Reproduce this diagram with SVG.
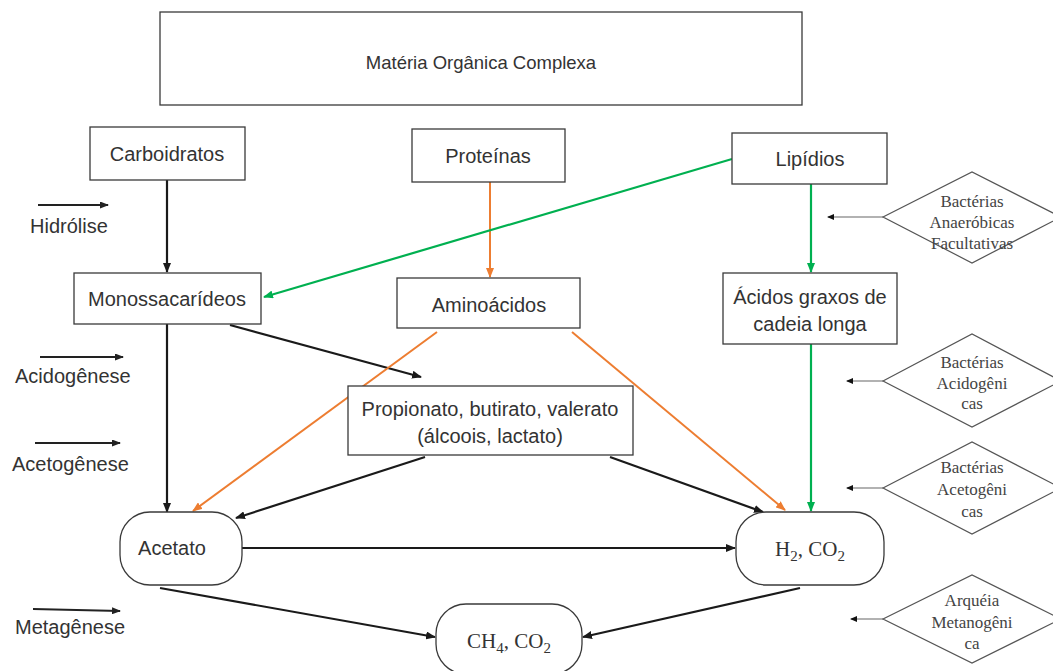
<svg xmlns="http://www.w3.org/2000/svg" width="1053" height="671" viewBox="0 0 1053 671">
<style>
.box{fill:#fff;stroke:#3a3a3a;stroke-width:1.3}
.t{font-family:"Liberation Sans",Arial,sans-serif;font-size:20px;fill:#333;text-anchor:middle}
.m{font-family:"Liberation Serif","Times New Roman",serif;font-size:21px;fill:#333;text-anchor:middle}
.lab{font-family:"Liberation Sans",Arial,sans-serif;font-size:20px;fill:#333}
.dia{fill:#fff;stroke:#555;stroke-width:1.2}
.dt{font-family:"Liberation Serif","Times New Roman",serif;font-size:17px;fill:#444;text-anchor:middle}
.k{stroke:#1a1a1a;stroke-width:2.2;fill:none;marker-end:url(#ak)}
.o{stroke:#ED7D31;stroke-width:2;fill:none;marker-end:url(#ao)}
.g{stroke:#00B050;stroke-width:2.2;fill:none;marker-end:url(#ag)}
.s{stroke:#999;stroke-width:1.5;fill:none;marker-end:url(#as)}
.p{stroke:#222;stroke-width:1.8;fill:none;marker-end:url(#ap)}
</style>
<defs>
<marker id="ak" markerUnits="userSpaceOnUse" markerWidth="10" markerHeight="8" refX="9" refY="4" orient="auto"><path d="M0,0 L10,4 L0,8 Z" fill="#1a1a1a"/></marker>
<marker id="ao" markerUnits="userSpaceOnUse" markerWidth="10" markerHeight="8" refX="9" refY="4" orient="auto"><path d="M0,0 L10,4 L0,8 Z" fill="#ED7D31"/></marker>
<marker id="ag" markerUnits="userSpaceOnUse" markerWidth="10" markerHeight="8" refX="9" refY="4" orient="auto"><path d="M0,0 L10,4 L0,8 Z" fill="#00B050"/></marker>
<marker id="as" markerUnits="userSpaceOnUse" markerWidth="7" markerHeight="6" refX="6" refY="3" orient="auto"><path d="M0,0 L7,3 L0,6 Z" fill="#111"/></marker>
<marker id="ap" markerUnits="userSpaceOnUse" markerWidth="9" markerHeight="7" refX="8" refY="3.5" orient="auto"><path d="M0,0 L9,3.5 L0,7 Z" fill="#222"/></marker>
</defs>
<rect width="1053" height="671" fill="#fff"/>

<g id="phases">
<line class="p" x1="38" y1="205" x2="108" y2="205"/>
<text class="lab" x="30" y="233">Hidrólise</text>
<line class="p" x1="40" y1="357" x2="123" y2="357"/>
<text class="lab" x="15" y="383">Acidogênese</text>
<line class="p" x1="35" y1="443" x2="120" y2="443"/>
<text class="lab" x="12" y="471">Acetogênese</text>
<line class="p" x1="33" y1="609" x2="120" y2="611"/>
<text class="lab" x="15" y="634">Metagênese</text>
</g>

<g id="connectors">
<line class="k" x1="167" y1="180" x2="167" y2="272"/>
<line class="o" x1="490" y1="182" x2="490" y2="277"/>
<line class="g" x1="732" y1="159" x2="264" y2="297"/>
<line class="g" x1="811" y1="184" x2="811" y2="272"/>
<line class="g" x1="811" y1="344" x2="811" y2="511"/>
<line class="k" x1="167" y1="324" x2="167" y2="512"/>
<line class="k" x1="230" y1="325" x2="421" y2="377"/>
<line class="o" x1="437" y1="332" x2="193" y2="511"/>
<line class="o" x1="572" y1="332" x2="785" y2="510"/>
<line class="k" x1="425" y1="457" x2="236" y2="518"/>
<line class="k" x1="610" y1="457" x2="763" y2="512"/>
<line class="k" x1="242" y1="548" x2="735" y2="548"/>
<line class="k" x1="160" y1="588" x2="435" y2="637"/>
<line class="k" x1="800" y1="588" x2="583" y2="637"/>
<line class="s" x1="883" y1="217" x2="828" y2="217"/>
<line class="s" x1="883" y1="381" x2="847" y2="381"/>
<line class="s" x1="883" y1="488" x2="847" y2="488"/>
<line class="s" x1="883" y1="619" x2="851" y2="619"/>
</g>

<g id="materia"><rect class="box" x="160" y="12" width="642" height="93"/><text class="t" x="481" y="69" style="font-size:18.5px">Matéria Orgânica Complexa</text></g>
<g id="carboidratos"><rect class="box" x="90" y="127" width="155" height="53"/><text class="t" x="167" y="161">Carboidratos</text></g>
<g id="proteinas"><rect class="box" x="412" y="129" width="153" height="53"/><text class="t" x="488" y="163">Proteínas</text></g>
<g id="lipidios"><rect class="box" x="732" y="133" width="155" height="51"/><text class="t" x="810" y="166">Lipídios</text></g>
<g id="monossacarideos"><rect class="box" x="74" y="273" width="187" height="51"/><text class="t" x="167" y="306">Monossacarídeos</text></g>
<g id="aminoacidos"><rect class="box" x="397" y="278" width="183" height="50"/><text class="t" x="489" y="312">Aminoácidos</text></g>
<g id="acidos-graxos"><rect class="box" x="723" y="273" width="174" height="71"/><text class="t" x="810" y="304">Ácidos graxos de</text><text class="t" x="810" y="331">cadeia longa</text></g>
<g id="propionato"><rect class="box" x="348" y="386" width="285" height="69"/><text class="t" x="490" y="416">Propionato, butirato, valerato</text><text class="t" x="490" y="443">(álcoois, lactato)</text></g>
<g id="acetato"><rect class="box" x="120" y="512" width="122" height="73" rx="30"/><text class="t" x="172" y="555">Acetato</text></g>
<g id="h2co2"><rect class="box" x="736" y="512" width="148" height="73" rx="30"/><text class="m" x="810" y="556">H<tspan font-size="15" dy="5">2</tspan><tspan dy="-5">, CO</tspan><tspan font-size="15" dy="5">2</tspan></text></g>
<g id="ch4co2"><rect class="box" x="436" y="604" width="146" height="70" rx="30"/><text class="m" x="509" y="648">CH<tspan font-size="15" dy="5">4</tspan><tspan dy="-5">, CO</tspan><tspan font-size="15" dy="5">2</tspan></text></g>

<g id="bact-anaerobicas"><polygon class="dia" points="883,217 972,172 1061,217 972,263"/><text class="dt" x="972" y="207">Bactérias</text><text class="dt" x="972" y="228">Anaeróbicas</text><text class="dt" x="972" y="249">Facultativas</text></g>
<g id="bact-acidogenicas"><polygon class="dia" points="883,381 972,334 1061,381 972,427"/><text class="dt" x="972" y="368">Bactérias</text><text class="dt" x="972" y="389">Acidogêni</text><text class="dt" x="972" y="409">cas</text></g>
<g id="bact-acetogenicas"><polygon class="dia" points="883,488 972,442 1061,488 972,534"/><text class="dt" x="972" y="473">Bactérias</text><text class="dt" x="972" y="495">Acetogêni</text><text class="dt" x="972" y="517">cas</text></g>
<g id="arqueia"><polygon class="dia" points="883,619 972,575 1061,619 972,663"/><text class="dt" x="972" y="606">Arquéia</text><text class="dt" x="972" y="628">Metanogêni</text><text class="dt" x="972" y="649">ca</text></g>
</svg>
